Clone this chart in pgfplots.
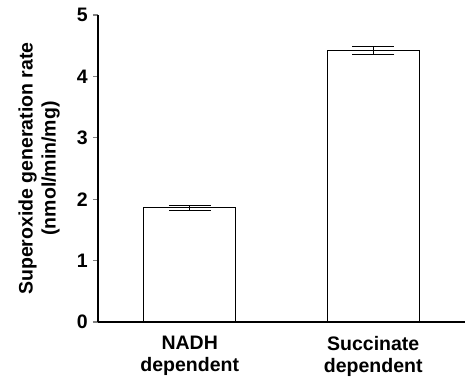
\documentclass[border=0pt]{standalone}
\usepackage{fontspec}
\setmainfont{Liberation Sans}
\usepackage{pgfplots}
\pgfplotsset{compat=1.18}
\begin{document}
\begin{tikzpicture}
\begin{axis}[
  name=ax,
  scale only axis,
  width=367pt, height=307pt,
  xmin=-0.5, xmax=1.5, ymin=0, ymax=5,
  axis x line*=bottom, axis y line*=left,
  axis line style={-, line width=1.2pt},
  xtick={0,1},
  xticklabels={{NADH\\dependent},{Succinate\\dependent}},
  xtick style={draw=none},
  xticklabel style={align=center, inner sep=0pt, yshift=-9pt, font=\fontsize{19.5}{22}\selectfont\bfseries},
  ytick={0,1,2,3,4,5},
  tick align=outside,
  major tick length=5pt,
  ytick style={line width=1.2pt},
  yticklabel style={inner sep=0pt, xshift=-5pt, font=\fontsize{19.5}{22}\selectfont\bfseries},
  /pgf/number format/assume math mode=true,
  ylabel={Superoxide generation rate\\(nmol/min/mg)},
  ylabel style={at={(axis description cs:-0.1035,0.5)}, anchor=south, align=center, inner sep=0pt, font=\fontsize{19.5}{23}\selectfont\bfseries},
]
\addplot[ybar, bar width=0.5, fill=white, draw=black, line width=1.2pt,
  error bars/.cd, y dir=both, y explicit,
  error bar style={line width=1.2pt},
  error mark options={rotate=90, mark size=21pt, line width=1.2pt}]
  coordinates {(0,1.86) +- (0,0.04) (1,4.42) +- (0,0.065)};
\end{axis}
\pgfresetboundingbox
\path ([xshift=-98pt,yshift=-57pt]ax.south west) rectangle ([yshift=15pt]ax.north east);
\end{tikzpicture}
\end{document}
